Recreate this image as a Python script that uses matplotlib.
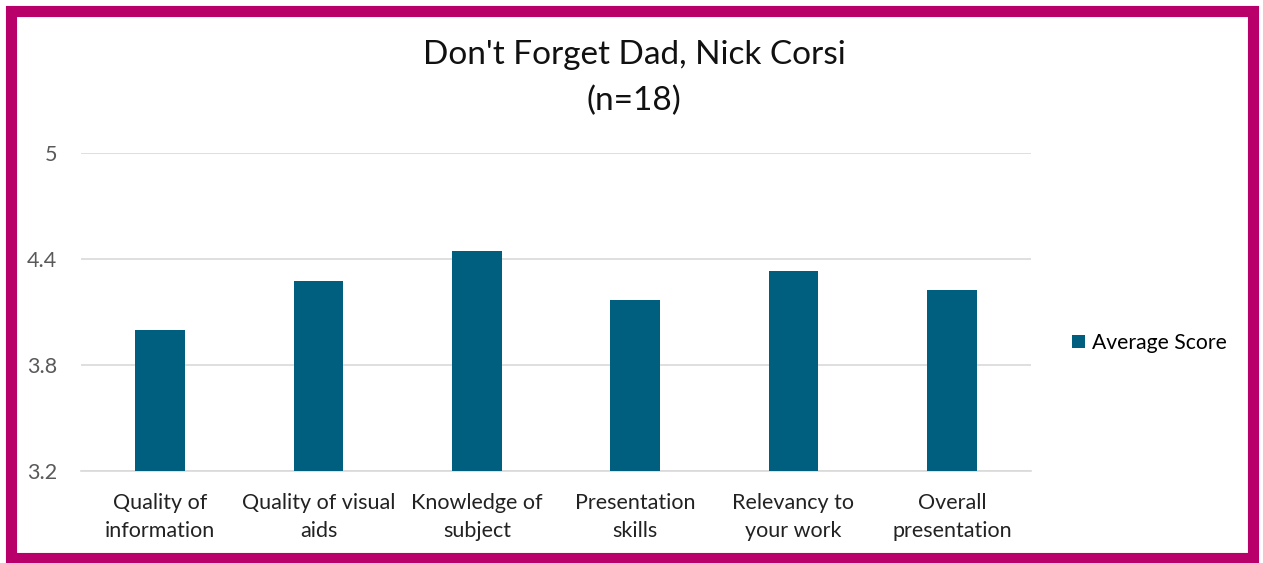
import matplotlib.pyplot as plt
from matplotlib.patches import Rectangle

plt.rcParams['font.family'] = ['Lato', 'DejaVu Sans']

categories = ['Quality of\ninformation', 'Quality of visual\naids', 'Knowledge of\nsubject',
              'Presentation\nskills', 'Relevancy to\nyour work', 'Overall\npresentation']
scores = [4.0, 4.278, 4.444, 4.167, 4.333, 4.222]
yticks = [3.2, 3.8, 4.4, 5]
ytick_labels = ['3.2', '3.8', '4.4', '5']

fig = plt.figure(figsize=(12.63, 5.63), dpi=100)
ax = fig.add_axes([81 / 1263, 1 - 471 / 563, 950 / 1263, 318 / 563])

x = range(len(categories))
ax.bar(x, scores, width=0.315, color='#005f7f', label='Average Score', zorder=3)

ax.set_ylim(3.2, 5)
ax.set_xlim(-0.5, len(categories) - 0.5)
ax.set_yticks(yticks)
ax.set_yticklabels(ytick_labels)
ax.set_xticks(list(x))
ax.set_xticklabels(categories, fontsize=15.5, color='#222222', linespacing=1.5)
ax.tick_params(axis='y', labelsize=15.5, labelcolor='#595959', length=0, pad=17)
ax.tick_params(axis='x', length=0, pad=16)
ax.grid(axis='y', color='#d9d9d9', linewidth=1.2, zorder=0)
for s in ['top', 'right', 'left']:
    ax.spines[s].set_visible(False)
ax.spines['bottom'].set_color('#d9d9d9')
ax.spines['bottom'].set_linewidth(1.2)

fig.text(634 / 1263, 1 - 55 / 563, "Don't Forget Dad, Nick Corsi", ha='center', va='center',
         fontsize=24, color='#111111')
fig.text(634 / 1263, 1 - 101 / 563, "(n=18)", ha='center', va='center',
         fontsize=24, color='#111111')

fig.legend(loc='center left', bbox_to_anchor=(1053 / 1263, 1 - 343 / 563), frameon=False,
           fontsize=15.2, handlelength=0.6, handleheight=0.6, handletextpad=0.35)

fig.patches.append(Rectangle((10.5 / 1263, 5.5 / 563), 1 - 21 / 1263, 1 - 16 / 563,
                             transform=fig.transFigure, fill=False,
                             edgecolor='#b9006a', linewidth=8, zorder=10))

fig.savefig('out.png', dpi=100)
